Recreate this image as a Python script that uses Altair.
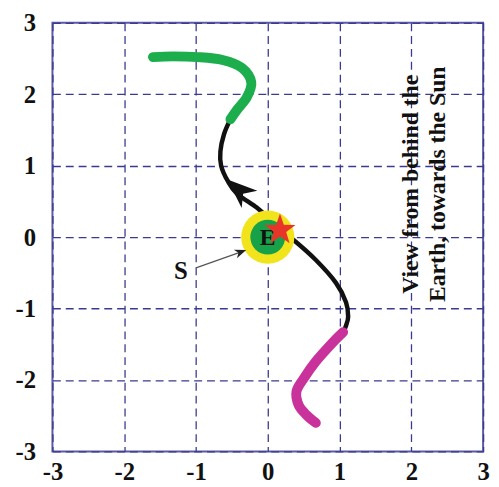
import altair as alt
import pandas as pd

# trajectory segments (data units)
green_x = [-1.60, -1.32, -0.98, -0.63, -0.36, -0.23, -0.29, -0.43, -0.52]
green_y = [2.52, 2.53, 2.52, 2.48, 2.37, 2.17, 1.96, 1.78, 1.65]

black_x = [-0.52, -0.61, -0.66, -0.65, -0.56, -0.43, -0.15, 0.01, 0.17, 0.36, 0.67, 0.95, 1.09, 1.12, 1.09, 1.05]
black_y = [1.65, 1.44, 1.20, 1.00, 0.79, 0.61, 0.41, 0.26, 0.10, -0.04, -0.32, -0.64, -0.91, -1.11, -1.24, -1.33]

magenta_x = [1.05, 0.91, 0.67, 0.50, 0.40, 0.43, 0.54, 0.67]
magenta_y = [-1.33, -1.47, -1.74, -1.98, -2.16, -2.35, -2.49, -2.60]

earth = [0.0, 0.0]
star = [0.17, 0.10]
arrow_pt = [-0.40, 0.66]
s_label = [-1.21, -0.48]
s_line_x = [-1.00, -0.38]
s_line_y = [-0.43, -0.21]
view_text_x = [1.99, 2.37]
view_text_y = [0.74, 0.74]
view_text = ["View from behind the", "Earth, towards the Sun"]
ticks = [-3, -2, -1, 0, 1, 2, 3]

FONT = "Liberation Serif"
STAR = ("M0,-1L0.235,-0.324L0.951,-0.309L0.380,0.124L0.588,0.809L0,0.4L-0.588,0.809"
        "L-0.380,0.124L-0.951,-0.309L-0.235,-0.324Z")
CHEVRON = "M0,-1L0.75,0.9L0,0.35L-0.75,0.9Z"

xs = alt.Scale(domain=[-3, 3], nice=False)
ys = alt.Scale(domain=[-3, 3], nice=False)

common = dict(values=ticks, grid=True, gridDash=[8, 5], gridColor="#3a3a90", gridWidth=1.3,
              domain=False, ticks=False, labelFont=FONT, labelFontWeight="bold", labelFontSize=25,
              labelColor="#111", title=None, labelFlush=False, labelExpr="'' + datum.value")
xax = alt.Axis(orient="bottom", labelPadding=8, **common)
yax = alt.Axis(orient="left", labelPadding=17, **common)

X = alt.X("x:Q", scale=xs, axis=xax)
Y = alt.Y("y:Q", scale=ys, axis=yax)


def seg(xv, yv):
    return pd.DataFrame({"x": xv, "y": yv, "i": list(range(len(xv)))})


black = alt.Chart(seg(black_x, black_y)).mark_line(
    color="#111", strokeWidth=4.5, interpolate="cardinal", strokeCap="round").encode(x=X, y=Y, order="i:Q")

green = alt.Chart(seg(green_x, green_y)).mark_line(
    color="#1cae4d", strokeWidth=10, interpolate="cardinal", strokeCap="round").encode(x=X, y=Y, order="i:Q")

magenta = alt.Chart(seg(magenta_x, magenta_y)).mark_line(
    color="#c8329a", strokeWidth=10, interpolate="cardinal", strokeCap="round").encode(x=X, y=Y, order="i:Q")

edf = pd.DataFrame({"x": [earth[0]], "y": [earth[1]], "t": ["E"]})
yellow = alt.Chart(edf).mark_point(filled=True, shape="circle", size=2900, color="#f2e41c", opacity=1).encode(x=X, y=Y)
greenc = alt.Chart(edf).mark_point(filled=True, shape="circle", size=1250, color="#17a24a", opacity=1).encode(x=X, y=Y)
etext = alt.Chart(edf).mark_text(font=FONT, fontWeight="bold", fontSize=24, color="#111", dy=1).encode(
    x=X, y=Y, text="t:N")

sdf = pd.DataFrame({"x": [star[0]], "y": [star[1]]})
starm = alt.Chart(sdf).mark_point(filled=True, shape=STAR, size=1100, color="#e8352a", opacity=1).encode(x=X, y=Y)

adf = pd.DataFrame({"x": [arrow_pt[0]], "y": [arrow_pt[1]]})
arrowm = alt.Chart(adf).mark_point(filled=True, shape=CHEVRON, size=1000,
                                   color="#111", opacity=1, angle=312).encode(x=X, y=Y)

sl = alt.Chart(seg(s_line_x, s_line_y)).mark_line(color="#555", strokeWidth=1.2).encode(x=X, y=Y, order="i:Q")
shead = alt.Chart(pd.DataFrame({"x": [s_line_x[1]], "y": [s_line_y[1]]})).mark_point(
    filled=True, shape=CHEVRON, size=150, color="#222", opacity=1, angle=70).encode(x=X, y=Y)
stext = alt.Chart(pd.DataFrame({"x": [s_label[0]], "y": [s_label[1]], "t": ["S"]})).mark_text(
    font=FONT, fontWeight="bold", fontSize=25, color="#111").encode(x=X, y=Y, text="t:N")

vt = alt.Chart(pd.DataFrame({"x": view_text_x, "y": view_text_y, "t": view_text})).mark_text(
    font=FONT, fontWeight="bold", fontSize=24, color="#111", angle=270).encode(x=X, y=Y, text="t:N")

chart = alt.layer(black, green, magenta, yellow, greenc, etext, sl, shead, stext, arrowm, starm, vt).properties(
    width=436, height=434,
    autosize=alt.AutoSizeParams(type="none"),
    padding={"left": 45, "top": 12, "right": 8, "bottom": 32},
    background="white",
).configure_view(stroke="#5a5aa6", strokeWidth=2)

chart.save("out.html", embed_options={"renderer": "svg", "actions": False})
